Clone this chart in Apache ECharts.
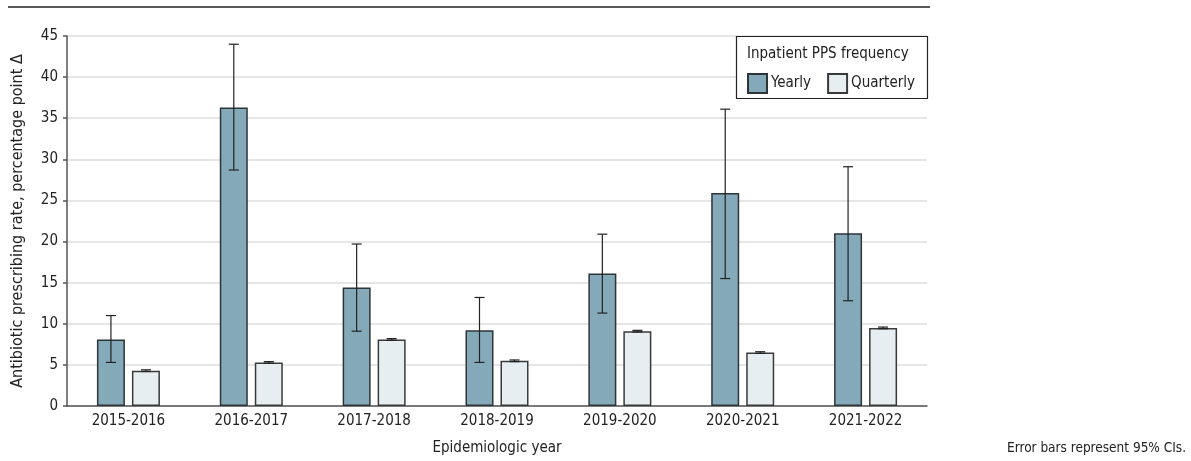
<!DOCTYPE html>
<html>
<head>
<meta charset="utf-8">
<script src="https://cdn.jsdelivr.net/npm/echarts@6/dist/echarts.min.js"></script>
<style>
  html, body { margin: 0; padding: 0; background: #fff; }
  #chart { width: 1191px; height: 461px; }
</style>
</head>
<body>
<div id="chart"></div>
<script>
// Epidemiologic years on the x axis
const categories = ['2015-2016', '2016-2017', '2017-2018', '2018-2019', '2019-2020', '2020-2021', '2021-2022'];

// Yearly inpatient PPS: change in prescribing rate with 95% CI bounds
const yearlyValues = [8.1, 36.3, 14.4, 9.2, 16.1, 25.9, 21.0];
const yearlyLow    = [5.3, 28.7, 9.1, 5.3, 11.3, 15.5, 12.8];
const yearlyHigh   = [11.0, 44.0, 19.7, 13.2, 20.9, 36.1, 29.1];

// Quarterly inpatient PPS: change in prescribing rate with 95% CI bounds
const quarterlyValues = [4.3, 5.3, 8.1, 5.5, 9.1, 6.5, 9.5];
const quarterlyLow    = [4.2, 5.2, 8.0, 5.4, 9.0, 6.4, 9.4];
const quarterlyHigh   = [4.4, 5.4, 8.2, 5.6, 9.2, 6.6, 9.6];

// Y-axis ticks
const yMin = 0, yMax = 45, yStep = 5;

const FONT = "'DejaVu Sans Condensed', 'DejaVu Sans', sans-serif";
const BAR_W = 28;
const BAR_GAP = 7;
const HALF_OFFSET = (BAR_W + BAR_GAP) / 2;

// Whisker with caps, shifted to sit over the matching bar in each group
function whisker(shift) {
  return function (params, api) {
    const i = api.value(0);
    const lo = api.coord([i, api.value(1)]);
    const hi = api.coord([i, api.value(2)]);
    const x = lo[0] + shift;
    const cap = 5;
    const style = { stroke: '#222', lineWidth: 1.2 };
    return {
      type: 'group',
      children: [
        { type: 'line', shape: { x1: x, y1: lo[1], x2: x, y2: hi[1] }, style },
        { type: 'line', shape: { x1: x - cap, y1: hi[1], x2: x + cap, y2: hi[1] }, style },
        { type: 'line', shape: { x1: x - cap, y1: lo[1], x2: x + cap, y2: lo[1] }, style }
      ]
    };
  };
}

const chart = echarts.init(document.getElementById('chart'), null, { renderer: 'canvas' });

chart.setOption({
  animation: false,
  textStyle: { fontFamily: FONT },
  grid: { left: 67, right: 264, top: 36, bottom: 55, containLabel: false },
  xAxis: {
    type: 'category',
    data: categories,
    name: 'Epidemiologic year',
    nameLocation: 'middle',
    nameGap: 35,
    nameTextStyle: { fontSize: 15, color: '#222', fontFamily: FONT },
    axisLine: { lineStyle: { color: '#555', width: 1.5 } },
    axisTick: { show: false },
    axisLabel: { fontSize: 15, color: '#222', margin: 8, fontFamily: FONT }
  },
  yAxis: {
    type: 'value',
    min: yMin,
    max: yMax,
    interval: yStep,
    name: 'Antibiotic prescribing rate, percentage point Δ',
    nameLocation: 'middle',
    nameGap: 41,
    nameTextStyle: { fontSize: 16, color: '#222', fontFamily: FONT },
    axisLine: { show: true, lineStyle: { color: '#555', width: 1.5 } },
    axisTick: { show: true, length: 4, lineStyle: { color: '#555', width: 1.5 } },
    axisLabel: { fontSize: 15, color: '#222', margin: 9, fontFamily: FONT },
    splitLine: { lineStyle: { color: '#dedede', width: 1.5 } }
  },
  legend: {
    left: 742,
    top: 68,
    itemWidth: 19,
    itemHeight: 19,
    itemGap: 16,
    icon: 'rect',
    textStyle: { fontSize: 15, color: '#222', fontFamily: FONT, padding: [0, 0, 0, -1] },
    data: ['Yearly', 'Quarterly']
  },
  graphic: [
    {
      type: 'line',
      shape: { x1: 8, y1: 7, x2: 930, y2: 7 },
      style: { stroke: '#222', lineWidth: 1.5 },
      z: 5
    },
    {
      type: 'rect',
      shape: { x: 736.5, y: 36.5, width: 191, height: 62 },
      style: { fill: '#fff', stroke: '#222', lineWidth: 1.2 },
      z: 3
    },
    {
      type: 'text',
      x: 747,
      y: 54,
      style: {
        text: 'Inpatient PPS frequency',
        fontSize: 15,
        fontFamily: FONT,
        fill: '#222',
        verticalAlign: 'middle'
      },
      z: 5
    },
    {
      type: 'text',
      x: 1186,
      y: 448,
      style: {
        text: 'Error bars represent 95% CIs.',
        fontSize: 13.5,
        fontFamily: FONT,
        fill: '#222',
        align: 'right',
        verticalAlign: 'middle'
      },
      z: 5
    }
  ],
  series: [
    {
      name: 'Yearly',
      type: 'bar',
      data: yearlyValues,
      barWidth: BAR_W,
      barGap: (BAR_GAP / BAR_W * 100) + '%',
      itemStyle: { color: '#84a9b8', borderColor: '#2e3538', borderWidth: 1.5 }
    },
    {
      name: 'Quarterly',
      type: 'bar',
      data: quarterlyValues,
      barWidth: BAR_W,
      itemStyle: { color: '#e7eef1', borderColor: '#3a3a3a', borderWidth: 1.5 }
    },
    {
      name: 'Yearly CI',
      type: 'custom',
      renderItem: whisker(-HALF_OFFSET),
      encode: { x: 0, y: [1, 2] },
      data: categories.map((c, i) => [i, yearlyLow[i], yearlyHigh[i]]),
      z: 4
    },
    {
      name: 'Quarterly CI',
      type: 'custom',
      renderItem: whisker(HALF_OFFSET),
      encode: { x: 0, y: [1, 2] },
      data: categories.map((c, i) => [i, quarterlyLow[i], quarterlyHigh[i]]),
      z: 4
    }
  ]
});
</script>
</body>
</html>
